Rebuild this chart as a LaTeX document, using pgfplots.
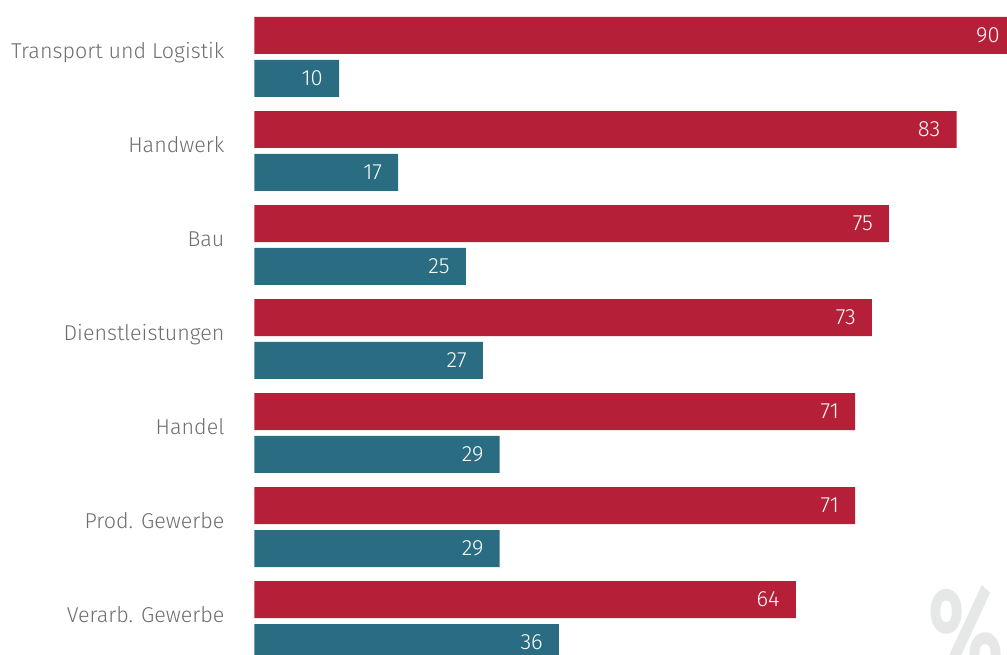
\documentclass[border=0pt]{standalone}
\usepackage{pgfplots}
\pgfplotsset{compat=1.18}
\usepackage{fontspec}
\setmainfont{Fira Sans}[UprightFont=* Light, BoldFont=* Bold]
\definecolor{cred}{HTML}{B51F38}
\definecolor{cteal}{HTML}{2A6D83}
\definecolor{ctext}{HTML}{6E6E70}
\definecolor{cpct}{HTML}{E6E7E7}
\begin{document}
\begin{tikzpicture}[x=1pt,y=1pt]
\path[use as bounding box] (0pt,0pt) rectangle (1007pt,655pt);
\clip (0pt,0pt) rectangle (1007pt,655pt);
\node[anchor=north west, inner sep=0pt, text=cpct, xscale=0.7, font=\fontsize{125}{125}\selectfont\bfseries] at (928pt,70pt) {\%};
\begin{axis}[
  at={(254.4pt,0pt)}, anchor=south west,
  scale only axis, width=761.4pt, height=655pt,
  xmin=0, xmax=90, ymin=-0.6064, ymax=6.3617, y dir=reverse,
  axis line style={draw=none}, tick style={draw=none},
  xtick=\empty,
  ytick={0,...,6},
  yticklabels={Transport und Logistik, Handwerk, Bau, Dienstleistungen, Handel, Prod. Gewerbe, Verarb. Gewerbe},
  yticklabel style={anchor=base east, inner sep=0pt, xshift=-25.5pt, yshift=-1.5pt, text=ctext, font=\fontsize{21.5}{25}\selectfont},
  xbar, bar width=0.3936,
  /pgf/number format/assume math mode=true,
  nodes near coords,
  nodes near coords style={anchor=east, inner sep=0pt, xshift=-16pt, text=white, font=\fontsize{22}{26}\selectfont},
  clip=false,
]
\addplot[fill=cred, draw=none, bar shift=-0.2287] coordinates {(90,0) (83,1) (75,2) (73,3) (71,4) (71,5) (64,6)};
\addplot[fill=cteal, draw=none, bar shift=0.2287] coordinates {(10,0) (17,1) (25,2) (27,3) (29,4) (29,5) (36,6)};
\end{axis}
\end{tikzpicture}
\end{document}
